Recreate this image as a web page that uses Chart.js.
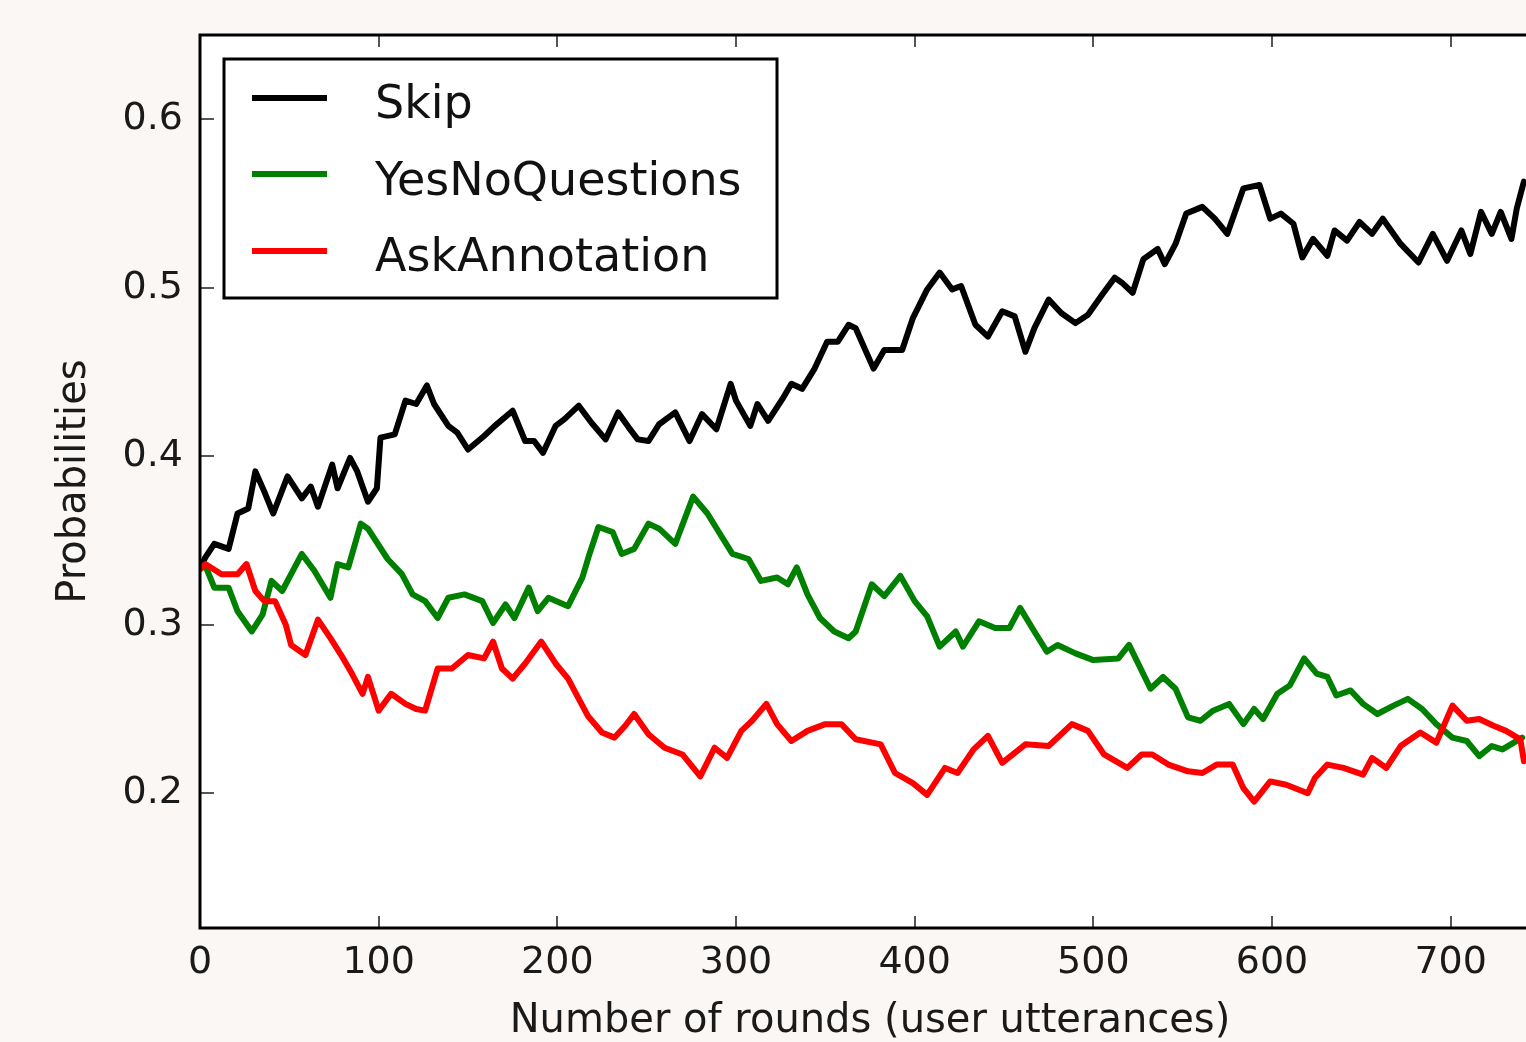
<!DOCTYPE html>
<html>
<head>
<meta charset="utf-8">
<script src="https://cdn.jsdelivr.net/npm/chart.js@4/dist/chart.umd.min.js"></script>
<style>
html, body { margin: 0; padding: 0; background: #fbf7f4; overflow: hidden; }
#wrap { width: 1542px; height: 1042px; }
</style>
</head>
<body>
<div id="wrap"><canvas id="chart" width="1542" height="1042"></canvas></div>
<script>
// Valeurs (round, probabilité)
const skipRounds = [0,3,8,16,21,27,31,36,41,49,57,62,66,74,77,84,88,94,99,101,109,115,121,127,131,139,144,150,159,165,175,182,187,192,199,204,212,219,227,234,240,245,251,257,266,274,281,289,297,300,308,312,318,326,331,337,344,351,357,363,367,377,383,393,399,407,414,421,426,434,441,449,456,462,467,475,482,490,497,505,512,516,522,528,536,540,546,552,561,568,575,584,593,599,605,612,617,623,631,635,642,649,656,662,672,682,690,698,706,711,717,723,728,734,737,741];
const skipProb = [0.333,0.340,0.348,0.345,0.366,0.369,0.391,0.379,0.366,0.388,0.375,0.382,0.370,0.395,0.381,0.399,0.391,0.373,0.381,0.411,0.413,0.433,0.431,0.442,0.431,0.418,0.414,0.404,0.412,0.418,0.427,0.409,0.409,0.402,0.418,0.422,0.430,0.420,0.410,0.426,0.417,0.410,0.409,0.419,0.426,0.409,0.425,0.416,0.443,0.433,0.418,0.431,0.421,0.434,0.443,0.440,0.452,0.468,0.468,0.478,0.476,0.452,0.463,0.463,0.482,0.499,0.509,0.499,0.501,0.478,0.471,0.486,0.483,0.462,0.476,0.493,0.485,0.479,0.484,0.496,0.506,0.503,0.497,0.517,0.523,0.514,0.526,0.544,0.548,0.541,0.532,0.559,0.561,0.541,0.544,0.538,0.518,0.529,0.519,0.534,0.528,0.539,0.532,0.541,0.526,0.515,0.532,0.516,0.534,0.520,0.545,0.532,0.545,0.529,0.547,0.563];

const yesNoRounds = [0,3,8,16,21,29,35,40,46,57,64,73,77,83,90,94,105,113,119,126,133,139,148,158,164,171,176,184,189,195,206,214,218,223,231,236,243,251,257,266,276,284,291,298,307,314,323,329,334,340,347,355,363,367,376,383,392,400,407,414,423,427,436,445,453,459,467,474,480,490,500,514,520,532,539,546,553,560,567,576,584,590,595,603,610,618,625,631,636,644,651,659,668,676,684,692,701,709,716,723,729,740];
const yesNoProb = [0.333,0.335,0.322,0.322,0.308,0.296,0.306,0.326,0.320,0.342,0.332,0.316,0.336,0.334,0.360,0.357,0.339,0.330,0.318,0.314,0.304,0.316,0.318,0.314,0.301,0.312,0.304,0.322,0.308,0.316,0.311,0.328,0.342,0.358,0.355,0.342,0.345,0.360,0.357,0.348,0.376,0.366,0.354,0.342,0.339,0.326,0.328,0.324,0.334,0.318,0.304,0.296,0.292,0.296,0.324,0.317,0.329,0.314,0.305,0.287,0.296,0.287,0.302,0.298,0.298,0.310,0.296,0.284,0.288,0.283,0.279,0.280,0.288,0.262,0.269,0.262,0.245,0.243,0.249,0.253,0.241,0.250,0.244,0.259,0.264,0.280,0.271,0.269,0.258,0.261,0.253,0.247,0.252,0.256,0.250,0.241,0.233,0.231,0.222,0.228,0.226,0.233];

const askRounds = [0,3,12,21,26,31,36,42,48,51,59,66,73,79,85,91,94,100,107,115,121,126,133,141,150,159,164,169,175,182,191,199,206,212,217,225,232,238,243,251,260,270,280,288,295,303,309,317,323,331,340,350,359,367,381,389,399,407,417,424,433,441,449,462,475,488,497,506,519,527,533,542,553,561,569,578,584,590,599,608,620,624,631,640,651,656,664,672,683,692,701,709,716,724,731,739,741];
const askProb = [0.333,0.336,0.330,0.330,0.336,0.320,0.314,0.314,0.300,0.288,0.282,0.303,0.292,0.282,0.271,0.259,0.269,0.249,0.259,0.253,0.250,0.249,0.274,0.274,0.282,0.280,0.290,0.274,0.268,0.277,0.290,0.277,0.268,0.256,0.246,0.236,0.233,0.240,0.247,0.235,0.227,0.223,0.210,0.227,0.221,0.237,0.243,0.253,0.241,0.231,0.237,0.241,0.241,0.232,0.229,0.212,0.206,0.199,0.215,0.212,0.226,0.234,0.218,0.229,0.228,0.241,0.237,0.223,0.215,0.223,0.223,0.217,0.213,0.212,0.217,0.217,0.203,0.195,0.207,0.205,0.200,0.209,0.217,0.215,0.211,0.221,0.215,0.228,0.236,0.230,0.252,0.243,0.244,0.240,0.237,0.232,0.219];

const seriesNames = ['Skip', 'YesNoQuestions', 'AskAnnotation'];
const seriesColors = ['#000000', '#008000', '#ff0000'];
const xTicks = [0, 100, 200, 300, 400, 500, 600, 700];
const yTicks = [0.2, 0.3, 0.4, 0.5, 0.6];

const toPoints = (xs, ys) => xs.map((x, i) => ({ x: x, y: ys[i] }));

const FONT = "'DejaVu Sans', sans-serif";

// Fond, cadre, graduations intérieures et légende façon matplotlib
const framePlugin = {
    id: 'frame',
    beforeDraw(chart) {
        const { ctx, chartArea: a } = chart;
        ctx.save();
        ctx.fillStyle = '#fbf7f4';
        ctx.fillRect(0, 0, chart.width, chart.height);
        ctx.fillStyle = '#ffffff';
        ctx.fillRect(a.left, a.top, a.right - a.left, a.bottom - a.top);
        ctx.restore();
    },
    afterDatasetsDraw(chart) {
        const { ctx, chartArea: a } = chart;
        const xs = chart.scales.x, ys = chart.scales.y;
        ctx.save();
        ctx.strokeStyle = '#555';
        ctx.lineWidth = 2;
        ctx.beginPath();
        xTicks.forEach(v => {
            const px = Math.round(xs.getPixelForValue(v));
            ctx.moveTo(px, a.bottom); ctx.lineTo(px, a.bottom - 12);
            ctx.moveTo(px, a.top); ctx.lineTo(px, a.top + 12);
        });
        yTicks.forEach(v => {
            const py = Math.round(ys.getPixelForValue(v));
            ctx.moveTo(a.left, py); ctx.lineTo(a.left + 14, py);
            ctx.moveTo(a.right, py); ctx.lineTo(a.right - 14, py);
        });
        ctx.stroke();

        ctx.strokeStyle = '#000';
        ctx.lineWidth = 3;
        ctx.strokeRect(a.left, a.top, a.right - a.left, a.bottom - a.top);

        // Légende
        const bx = a.left + 24, by = a.top + 24, bw = 553, bh = 239;
        ctx.fillStyle = '#fff';
        ctx.fillRect(bx, by, bw, bh);
        ctx.strokeRect(bx, by, bw, bh);
        const lineY = [39, 115, 192];
        const textY = [59, 136, 212];
        ctx.font = '46px ' + FONT;
        ctx.textBaseline = 'alphabetic';
        chart.data.datasets.forEach((ds, i) => {
            ctx.strokeStyle = ds.borderColor;
            ctx.lineWidth = 6;
            ctx.beginPath();
            ctx.moveTo(bx + 28, by + lineY[i]);
            ctx.lineTo(bx + 103, by + lineY[i]);
            ctx.stroke();
            ctx.fillStyle = '#111';
            ctx.fillText(ds.label, bx + 151, by + textY[i]);
        });
        ctx.restore();
    }
};

const ctx = document.getElementById('chart').getContext('2d');
new Chart(ctx, {
    type: 'line',
    data: {
        datasets: [
            { label: seriesNames[0], data: toPoints(skipRounds, skipProb), borderColor: seriesColors[0], order: 3 },
            { label: seriesNames[1], data: toPoints(yesNoRounds, yesNoProb), borderColor: seriesColors[1], order: 2 },
            { label: seriesNames[2], data: toPoints(askRounds, askProb), borderColor: seriesColors[2], order: 1 }
        ]
    },
    options: {
        responsive: false,
        animation: false,
        devicePixelRatio: 1,
        layout: { padding: { top: 35, left: 0, right: 2, bottom: 0 } },
        elements: {
            line: { borderWidth: 6, tension: 0, borderJoinStyle: 'round', borderCapStyle: 'round' },
            point: { radius: 0 }
        },
        scales: {
            x: {
                type: 'linear',
                min: 0,
                max: 750,
                afterFit: s => { s.height = 114; s.paddingLeft = 0; s.paddingRight = 0; },
                afterBuildTicks: s => { s.ticks = xTicks.map(v => ({ value: v })); },
                grid: { display: false, drawTicks: false },
                border: { display: false },
                ticks: { color: '#1a1a1a', padding: 12, maxRotation: 0, font: { family: FONT, size: 38 } },
                title: {
                    display: true,
                    text: 'Number of rounds (user utterances)',
                    color: '#1a1a1a',
                    font: { family: FONT, size: 40, lineHeight: 1 },
                    padding: { top: 0, bottom: 0 }
                }
            },
            y: {
                min: 0.12,
                max: 0.65,
                afterFit: s => { s.width = 200; s.paddingTop = 0; s.paddingBottom = 0; },
                afterBuildTicks: s => { s.ticks = yTicks.map(v => ({ value: v })); },
                grid: { display: false, drawTicks: false },
                border: { display: false },
                ticks: {
                    color: '#1a1a1a', padding: 17, font: { family: FONT, size: 38 },
                    callback: v => v.toFixed(1)
                },
                title: {
                    display: true,
                    text: 'Probabilities',
                    color: '#1a1a1a',
                    font: { family: FONT, size: 40, lineHeight: 1 },
                    padding: { top: 55, bottom: 0 }
                }
            }
        },
        plugins: {
            legend: { display: false },
            tooltip: { enabled: false }
        }
    },
    plugins: [framePlugin]
});
</script>
</body>
</html>
